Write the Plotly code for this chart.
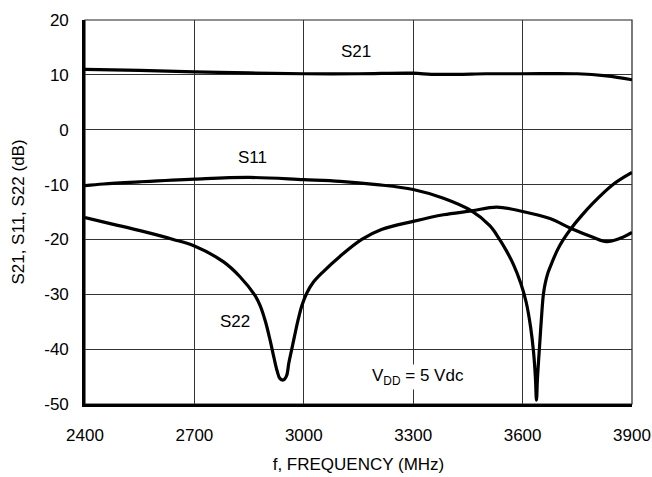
import plotly.graph_objects as go

# ---- data ----
s21_freq = [2400, 2550, 2700, 2850, 3000, 3150, 3300, 3350, 3420, 3500, 3600, 3750, 3830, 3900]
s21_db = [11.0, 10.8, 10.55, 10.35, 10.2, 10.2, 10.3, 10.1, 10.1, 10.2, 10.2, 10.2, 9.8, 9.1]

s11_freq = [2400, 2450, 2550, 2700, 2850, 3000, 3100, 3200, 3300, 3383, 3460, 3510, 3535,
            3555, 3575, 3595, 3610, 3622, 3630, 3635, 3638, 3641, 3646, 3651, 3657, 3662,
            3670, 3680, 3695, 3712, 3733, 3760, 3793, 3848, 3900]
s11_db = [-10.2, -9.9, -9.5, -9.0, -8.7, -9.1, -9.4, -10.0, -10.9, -12.5, -14.8, -17.5, -19.8,
          -22.0, -24.6, -28.0, -31.5, -36.0, -40.5, -45.0, -49.3, -45.0, -40.0, -35.0, -30.0, -28.0,
          -26.0, -24.3, -22.0, -20.0, -18.0, -15.8, -13.4, -10.0, -7.8]

s22_freq = [2400, 2475, 2551, 2642, 2700, 2780, 2825, 2866, 2880, 2895, 2908, 2918, 2927,
            2935, 2945, 2953, 2959, 2967, 2975, 2985, 2995, 3008, 3025, 3053, 3099, 3159,
            3213, 3300, 3383, 3460, 3529, 3600, 3675, 3733, 3793, 3830, 3867, 3900]
s22_db = [-16.0, -17.2, -18.4, -20.0, -21.2, -24.1, -26.8, -30.2, -32.0, -35.0, -38.5, -41.5, -44.0,
          -45.4, -45.6, -44.8, -42.5, -40.0, -37.5, -34.5, -32.0, -29.8, -27.9, -25.9, -23.1, -20.0,
          -18.2, -16.7, -15.5, -14.8, -14.1, -14.9, -16.2, -18.0, -19.6, -20.4, -19.8, -18.7]

x_ticks = [2400, 2700, 3000, 3300, 3600, 3900]
y_ticks = [-50, -40, -30, -20, -10, 0, 10, 20]

labels = ["S21", "S11", "S22", "V<sub>DD</sub> = 5 Vdc"]
label_x = [3143, 2858, 2811, 3313]
label_y = [14.2, -5.0, -35.0, -45.0]

FONT = "Liberation Sans, Arial, sans-serif"

fig = go.Figure()
for fx, fy in [(s21_freq, s21_db), (s11_freq, s11_db), (s22_freq, s22_db)]:
    fig.add_trace(go.Scatter(x=fx, y=fy, mode="lines",
                             line=dict(color="black", width=3.2, shape="spline", smoothing=1.0),
                             showlegend=False, hoverinfo="skip"))

for i, t in enumerate(labels):
    fig.add_annotation(x=label_x[i], y=label_y[i], text=t, showarrow=False,
                       font=dict(family=FONT, size=17, color="black"),
                       bgcolor="white" if i == 3 else "rgba(0,0,0,0)")

# thin frame (top/right)
fig.add_shape(type="rect", xref="paper", yref="paper", x0=0, y0=0, x1=1, y1=1,
              line=dict(color="#222", width=1.2), layer="below")

fig.update_xaxes(range=[2400, 3900], tickvals=x_ticks, ticktext=[str(v) for v in x_ticks],
                 showgrid=True, gridcolor="#333", gridwidth=1, automargin=False,
                 showline=True, linecolor="black", linewidth=2.6,
                 zeroline=False, ticks="", ticklabelstandoff=14,
                 tickfont=dict(family=FONT, size=17, color="black"),
                 title=dict(text="f, FREQUENCY (MHz)", standoff=14,
                            font=dict(family=FONT, size=17, color="black")))
fig.update_yaxes(range=[-50, 20], tickvals=y_ticks, ticktext=[str(v) for v in y_ticks],
                 showgrid=True, gridcolor="#333", gridwidth=1, automargin=False,
                 showline=True, linecolor="black", linewidth=2.6,
                 zeroline=False, ticks="", ticklabelstandoff=10,
                 tickfont=dict(family=FONT, size=17, color="black"),
                 title=dict(text="S21, S11, S22 (dB)", standoff=16,
                            font=dict(family=FONT, size=17, color="black")))

fig.update_layout(width=652, height=477, margin=dict(l=85, r=20, t=20, b=73),
                  plot_bgcolor="white", paper_bgcolor="white",
                  font=dict(family=FONT, size=17, color="black"))

fig.write_html("out.html", config={"displayModeBar": False},
               post_script="document.body.style.margin='0';")
